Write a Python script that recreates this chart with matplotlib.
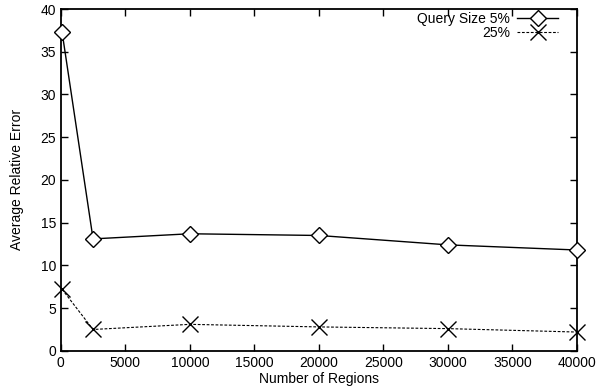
import matplotlib.pyplot as plt

regions = [100, 2500, 10000, 20000, 30000, 40000]
err_5 = [37.3, 13.1, 13.7, 13.5, 12.4, 11.8]
err_25 = [7.2, 2.5, 3.1, 2.8, 2.6, 2.2]

plt.rcParams['font.family'] = ['Liberation Sans', 'DejaVu Sans']
plt.rcParams['font.size'] = 10

fig = plt.figure(figsize=(5.96, 3.92), dpi=100)
ax = fig.add_axes([0.102, 0.105, 0.866, 0.872])

ax.plot(regions, err_5, color='black', lw=1, marker='D', ms=8, mfc='white',
        mec='black', mew=1, label='Query Size 5%', clip_on=False, zorder=3)
ax.plot(regions, err_25, color='black', lw=0.8, ls=(0, (2.5, 1.5)), marker='x', ms=11,
        mew=1, label='25%', clip_on=False, zorder=3)

ax.set_xlim(0, 40000)
ax.set_ylim(0, 40)
ax.set_xticks(range(0, 40001, 5000))
ax.set_yticks(range(0, 41, 5))
ax.tick_params(direction='in', top=True, right=True, length=5, width=1)
for s in ax.spines.values():
    s.set_linewidth(1.3)
ax.set_xlabel('Number of Regions', labelpad=2)
ax.set_ylabel('Average Relative Error', labelpad=12)

ax.legend(loc='upper right', bbox_to_anchor=(0.975, 1.008), frameon=False,
          markerfirst=False, handlelength=3, borderaxespad=0, labelspacing=0.0,
          handletextpad=0.5)

fig.savefig('out.png', dpi=100)
